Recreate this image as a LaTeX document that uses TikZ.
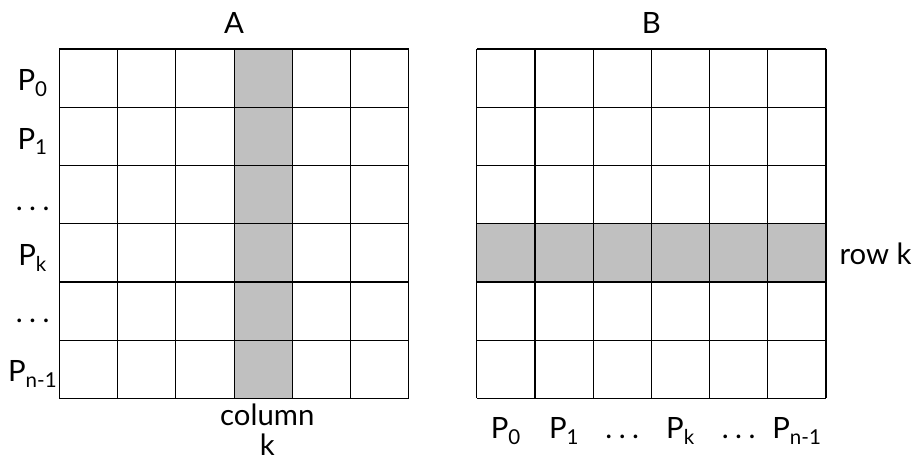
\documentclass[tikz,border=0pt]{standalone}
\usepackage{fontspec}
\setmainfont{Lato}
\usepackage{tikz}
\definecolor{mygray}{RGB}{192,192,192}
\newcommand{\spdots}{.\hspace{0.22em}.\hspace{0.22em}.}

\begin{document}
\begin{tikzpicture}[x=43.65pt,y=43.65pt]
	\tikzset{lbl/.style={font=\fontsize{22}{26}\selectfont, inner sep=0pt, anchor=base}}
	\tikzset{gridline/.style={draw, line width=0.8pt}}
	\tikzset{splitline/.style={draw, line width=1.6pt}}
	
	\useasboundingbox (-1.022,0.842) rectangle (14.75,-7.13);
	
	% shaded column k of A, row k of B
	\fill[mygray] (3,0) rectangle (4,-6);
	\fill[mygray] (7.17,-3) rectangle (13.17,-4);
	
	\draw[gridline, step=43.65pt] (0,0) grid (6,-6);
	\begin{scope}[xshift=7.17*43.65pt]
		\draw[gridline, step=43.65pt] (0,0) grid (6,-6);
	\end{scope}
	
	\draw[splitline] (0,-4) -- (6,-4);
	\draw[splitline] (7.17,-4) -- (13.17,-4);
	
	\node(a) at (3,0.27) [lbl] {A};
	\node(b) at (10.17,0.27) [lbl] {B};
	
	\node(a_p0) at (-0.46,-0.72) [lbl] {P\textsubscript{0}};
	\node(a_p1) at (-0.46,-1.72) [lbl] {P\textsubscript{1}};
	\node(a_dots1) at (-0.46,-2.78) [lbl] {\spdots};
	\node(a_pk) at (-0.46,-3.72) [lbl] {P\textsubscript{k}};
	\node(a_dots2) at (-0.46,-4.7) [lbl] {\spdots};
	\node(a_pn) at (-0.46,-5.72) [lbl] {P\textsubscript{n-1}};
	
	\node(col) at (3.57,-6.47) [lbl] {column};
	\node(col_k) at (3.57,-6.99) [lbl] {k};
	
	\node(row) at (14.02,-3.71) [lbl] {row k};
	
	\node(b_p0) at (7.67,-6.7) [lbl] {P\textsubscript{0}};
	\node(b_p1) at (8.67,-6.7) [lbl] {P\textsubscript{1}};
	\node(b_dots1) at (9.67,-6.7) [lbl] {\spdots};
	\node(b_pk) at (10.67,-6.7) [lbl] {P\textsubscript{k}};
	\node(b_dots2) at (11.67,-6.7) [lbl] {\spdots};
	\node(b_pn) at (12.67,-6.7) [lbl] {P\textsubscript{n-1}};
	
\end{tikzpicture}
\end{document}
